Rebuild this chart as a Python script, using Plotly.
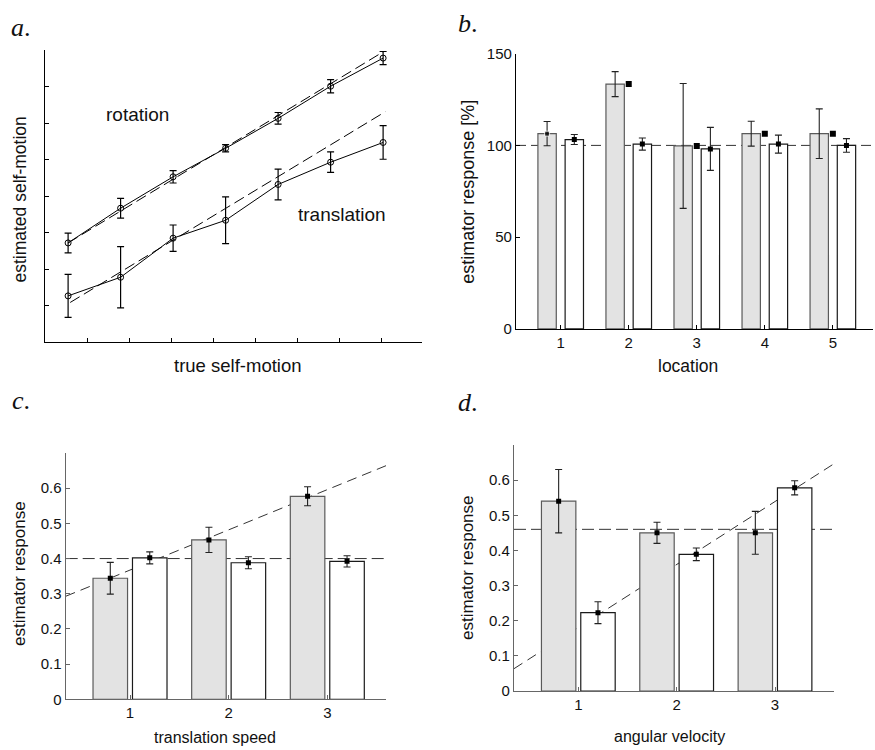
import plotly.graph_objects as go

# ---------------- data ----------------
# panel a (tick units on both axes)
a_x = [0.55, 1.8, 3.05, 4.3, 5.55, 6.8, 8.05]
rot_y = [2.72, 3.67, 4.53, 5.31, 6.13, 7.01, 7.78]
rot_err = [0.27, 0.27, 0.17, 0.10, 0.16, 0.18, 0.18]
trans_y = [1.27, 1.78, 2.85, 3.34, 4.32, 4.93, 5.47]
trans_err = [0.59, 0.84, 0.36, 0.64, 0.42, 0.28, 0.46]
rot_ideal_x = [0.55, 8.05]
rot_ideal_y = [2.72, 7.95]
trans_ideal_x = [0.6, 8.1]
trans_ideal_y = [1.09, 6.31]

# panel b
b_loc = [1, 2, 3, 4, 5]
b_gray = [106.4, 133.4, 99.7, 106.4, 106.4]
b_gray_err = [6.6, 6.8, 34.0, 6.8, 13.5]
b_white = [103.2, 100.7, 98.1, 100.7, 100.0]
b_white_err = [2.7, 3.3, 11.7, 4.9, 3.7]
b_ref = 100

# panel c
c_cat = [1, 2, 3]
c_gray = [0.344, 0.453, 0.577]
c_gray_err = [0.045, 0.036, 0.027]
c_white = [0.402, 0.388, 0.392]
c_white_err = [0.017, 0.017, 0.016]
c_ref = 0.40
c_fit = (0.253, 0.1143)   # intercept, slope

# panel d
d_cat = [1, 2, 3]
d_gray = [0.540, 0.450, 0.450]
d_gray_err = [0.090, 0.030, 0.061]
d_white = [0.223, 0.389, 0.578]
d_white_err = [0.031, 0.018, 0.020]
d_ref = 0.46
d_fit = (0.002, 0.179)

# ---------------- styling ----------------
W, H = 875, 750
OFF = 0.2
GRAY_FILL = "#e3e3e3"
GRAY_LINE = "#5a5a5a"
WHITE_LINE = "#1a1a1a"
FONT = "Liberation Sans, Arial, sans-serif"

def px_dom_x(x0, x1):
    return [x0 / W, x1 / W]

def px_dom_y(top, bottom):
    return [1 - bottom / H, 1 - top / H]

fig = go.Figure()

# ---- panel a ----
fig.add_trace(go.Scatter(x=rot_ideal_x, y=rot_ideal_y, mode="lines",
                         line=dict(color="black", width=1, dash="11px,5px"),
                         xaxis="x", yaxis="y", showlegend=False))
fig.add_trace(go.Scatter(x=trans_ideal_x, y=trans_ideal_y, mode="lines",
                         line=dict(color="black", width=1, dash="11px,5px"),
                         xaxis="x", yaxis="y", showlegend=False))
for ys, es in [(rot_y, rot_err), (trans_y, trans_err)]:
    fig.add_trace(go.Scatter(x=a_x, y=ys, mode="lines+markers",
                             line=dict(color="black", width=1),
                             marker=dict(symbol="circle-open", size=6, color="black",
                                         line=dict(width=1)),
                             error_y=dict(type="data", array=es, color="black",
                                          thickness=1.2, width=3.5),
                             xaxis="x", yaxis="y", showlegend=False))

# ---- bar panels helper ----
def bar_panel(xa, ya, cats, gray, gerr, white, werr, bw, gray_marker_sizes):
    gx = [c - OFF for c in cats]
    wx = [c + OFF for c in cats]
    fig.add_trace(go.Bar(x=gx, y=gray, width=bw, marker=dict(color=GRAY_FILL,
                         line=dict(color=GRAY_LINE, width=1.2)),
                         xaxis=xa, yaxis=ya, showlegend=False))
    fig.add_trace(go.Bar(x=wx, y=white, width=bw, marker=dict(color="white",
                         line=dict(color=WHITE_LINE, width=1.2)),
                         xaxis=xa, yaxis=ya, showlegend=False))
    fig.add_trace(go.Scatter(x=gx, y=gray, mode="markers",
                             marker=dict(symbol="square", size=gray_marker_sizes, color="black"),
                             error_y=dict(type="data", array=gerr, color="#222",
                                          thickness=1.1, width=3.5),
                             xaxis=xa, yaxis=ya, showlegend=False))
    fig.add_trace(go.Scatter(x=wx, y=white, mode="markers",
                             marker=dict(symbol="square", size=5, color="black"),
                             error_y=dict(type="data", array=werr, color="#222",
                                          thickness=1.1, width=3.5),
                             xaxis=xa, yaxis=ya, showlegend=False))

# panel b
bar_panel("x2", "y2", b_loc, b_gray, b_gray_err, b_white, b_white_err, 0.27,
          [5, 0, 0, 0, 0])
fig.add_trace(go.Scatter(x=b_loc[1:], y=b_gray[1:], mode="markers",
                         marker=dict(symbol="square", size=6, color="black"),
                         xaxis="x2", yaxis="y2", showlegend=False))
# panel c
bar_panel("x3", "y3", c_cat, c_gray, c_gray_err, c_white, c_white_err, 0.35, 5)
# panel d
bar_panel("x4", "y4", d_cat, d_gray, d_gray_err, d_white, d_white_err, 0.35, 5)

# ---------------- axes ----------------
def axis(dom, rng, tickvals=None, ticktext=None, color="black", show_labels=True, size=15):
    return dict(domain=dom, range=rng, showline=True, linecolor=color, linewidth=1.3,
                mirror=False, showgrid=False, zeroline=False, ticks="inside", ticklen=4,
                tickcolor=color, tickwidth=1, tickmode="array",
                tickvals=tickvals if tickvals is not None else [],
                ticktext=ticktext, showticklabels=show_labels,
                tickfont=dict(family=FONT, size=size, color="#111"), fixedrange=True)

a_xr = [0, 8.976]
a_yr = [0, 8.0]
b_xr = [0.343, 5.59]
b_yr = [0, 150]
c_xr = [0.348, 3.595]
c_yr = [0, 0.70]
d_xr = [0.346, 3.60]
d_yr = [0, 0.70]

lay = dict(
    xaxis=axis(px_dom_x(45, 422), a_xr, list(range(1, 9)), show_labels=False),
    yaxis=axis(px_dom_y(42, 341), a_yr, list(range(1, 9)), show_labels=False),
    xaxis2=axis(px_dom_x(516, 873), b_xr, b_loc, [str(v) for v in b_loc]),
    yaxis2=axis(px_dom_y(45.7, 327.3), b_yr, [0, 50, 100, 150], ["0", "50", "100", "150"]),
    xaxis3=axis(px_dom_x(65.7, 386), c_xr, c_cat, [str(v) for v in c_cat], color="#666"),
    yaxis3=axis(px_dom_y(454.3, 706.3), c_yr, [0, 0.1, 0.2, 0.3, 0.4, 0.5, 0.6],
                ["0", "0.1", "0.2", "0.3", "0.4", "0.5", "0.6"], color="#666"),
    xaxis4=axis(px_dom_x(514, 834), d_xr, d_cat, [str(v) for v in d_cat], color="#666"),
    yaxis4=axis(px_dom_y(446, 698), d_yr, [0, 0.1, 0.2, 0.3, 0.4, 0.5, 0.6],
                ["0", "0.1", "0.2", "0.3", "0.4", "0.5", "0.6"], color="#666"),
)
lay["xaxis"]["anchor"] = "y"
lay["yaxis"]["anchor"] = "x"
lay["xaxis2"]["anchor"] = "y2"
lay["yaxis2"]["anchor"] = "x2"
lay["xaxis3"]["anchor"] = "y3"
lay["yaxis3"]["anchor"] = "x3"
lay["xaxis4"]["anchor"] = "y4"
lay["yaxis4"]["anchor"] = "x4"

# ---------------- reference lines (behind bars) ----------------
shapes = []
shapes.append(dict(type="line", xref="x2 domain", yref="y2", x0=0, x1=1, y0=b_ref, y1=b_ref,
                   line=dict(color="#333", width=1, dash="10px,5px"), layer="below"))
shapes.append(dict(type="line", xref="x3 domain", yref="y3", x0=0, x1=1, y0=c_ref, y1=c_ref,
                   line=dict(color="#333", width=1, dash="12px,5px"), layer="below"))
shapes.append(dict(type="line", xref="x3", yref="y3", x0=c_xr[0], x1=c_xr[1],
                   y0=c_fit[0] + c_fit[1] * c_xr[0], y1=c_fit[0] + c_fit[1] * c_xr[1],
                   line=dict(color="#333", width=1, dash="10px,6px"), layer="below"))
shapes.append(dict(type="line", xref="x4 domain", yref="y4", x0=0, x1=1, y0=d_ref, y1=d_ref,
                   line=dict(color="#333", width=1, dash="12px,5px"), layer="below"))
shapes.append(dict(type="line", xref="x4", yref="y4", x0=d_xr[0], x1=d_xr[1],
                   y0=d_fit[0] + d_fit[1] * d_xr[0], y1=d_fit[0] + d_fit[1] * d_xr[1],
                   line=dict(color="#333", width=1, dash="10px,6px"), layer="below"))

# ---------------- text ----------------
def ann(text, x, y, size, angle=0, family=FONT, xanchor="center", yanchor="middle"):
    return dict(text=text, x=x / W, y=1 - y / H, xref="paper", yref="paper",
                showarrow=False, textangle=angle, xanchor=xanchor, yanchor=yanchor,
                font=dict(family=family, size=size, color="#111"))

annotations = [
    ann("<i>a</i>.", 9, 19, 26, family="Liberation Serif", xanchor="left"),
    ann("<i>b</i>.", 456, 15, 26, family="Liberation Serif", xanchor="left"),
    ann("<i>c</i>.", 10, 401, 26, family="Liberation Serif", xanchor="left"),
    ann("<i>d</i>.", 456, 403, 26, family="Liberation Serif", xanchor="left"),
    ann("rotation", 137, 108, 19),
    ann("translation", 342, 210, 19),
    ann("estimated self-motion", 20, 195, 17.5, angle=-90),
    ann("true self-motion", 238, 365, 18.5),
    ann("estimator response [%]", 468, 187, 18, angle=-90),
    ann("location", 688, 365, 17.5),
    ann("estimator response", 20, 578, 17, angle=-90),
    ann("translation speed", 215, 745, 16),
    ann("estimator response", 467, 572, 17, angle=-90),
    ann("angular velocity", 669, 744, 16),
]

fig.update_layout(width=W, height=H, margin=dict(l=0, r=0, t=0, b=0),
                  paper_bgcolor="white", plot_bgcolor="white", barmode="overlay",
                  shapes=shapes, annotations=annotations, showlegend=False, **lay)

fig.write_html("out.html")
